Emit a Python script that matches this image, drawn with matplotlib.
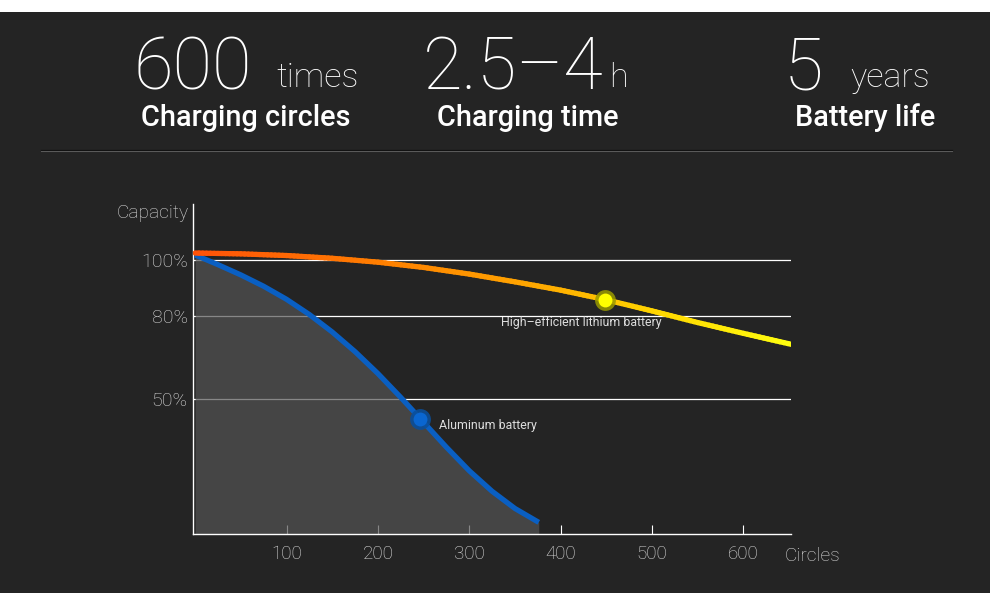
import numpy as np
import matplotlib
matplotlib.use("Agg")
import matplotlib.pyplot as plt
from matplotlib.collections import LineCollection
from matplotlib.colors import LinearSegmentedColormap
from matplotlib.patches import Rectangle
from matplotlib.lines import Line2D

# ---------------- data ----------------
lith_x = [0, 50, 100, 150, 200, 250, 300, 350, 400, 450, 500, 550, 600, 653]
lith_y = [102.6, 102.3, 101.7, 100.7, 99.3, 97.4, 95.0, 92.2, 89.2, 85.7, 81.7, 77.5, 73.6, 69.6]
alu_x = [0, 25, 50, 75, 100, 125, 150, 175, 200, 225, 250, 275, 300, 325, 350, 376]
alu_y = [101.9, 98.4, 94.7, 90.6, 85.9, 80.4, 74.1, 67.0, 59.1, 50.5, 41.5, 32.5, 24.0, 16.6, 10.4, 5.4]
lith_marker = (449, 85.7)
alu_marker = (246, 42.6)
grid_levels = [100, 80, 50]
ytick_labels = ["100%", "80%", "50%"]
xticks = [100, 200, 300, 400, 500, 600]
xtick_labels = ["100", "200", "300", "400", "500", "600"]

headline_nums = ["600", "2.5\u20134", "5"]
headline_units = ["times", "h", "years"]
headline_subs = ["Charging circles", "Charging time", "Battery life"]

BG = "#242424"
W, H = 990, 600
plt.rcParams['font.family'] = ['Roboto', 'DejaVu Sans']

fig = plt.figure(figsize=(9.9, 6.0), dpi=100)
fig.patch.set_facecolor(BG)
fig.patches.append(Rectangle((0, 1 - 12 / H), 1, 12 / H, transform=fig.transFigure,
                             facecolor="white", edgecolor="none", zorder=-5))
fig.patches.append(Rectangle((0, 0), 1, 7 / H, transform=fig.transFigure,
                             facecolor="white", edgecolor="none", zorder=-5))

def fx(px):
    return px / W

def fy(py):
    return 1 - py / H

# headline
num_pos = [133, 423, 784]
unit_pos = [276, 609, 850]
sub_pos = [141, 437, 795]
for n, u, s, xn, xu, xs in zip(headline_nums, headline_units, headline_subs, num_pos, unit_pos, sub_pos):
    fig.text(fx(xn), fy(90), n, color="white", fontsize=52, fontweight="light", va="baseline", ha="left")
    fig.text(fx(xu), fy(87), u, color="white", fontsize=24.5, fontweight="light", va="baseline", ha="left")
    fig.text(fx(xs), fy(126), s, color="white", fontsize=20.8, fontweight="medium", va="baseline", ha="left")

# separator
fig.add_artist(Line2D([fx(41), fx(952)], [fy(150), fy(150)], color="#0e0e0e", lw=0.9, transform=fig.transFigure))
fig.add_artist(Line2D([fx(41), fx(952)], [fy(151.2), fy(151.2)], color="#5a5a5a", lw=0.8, transform=fig.transFigure))

# axes
ax_left, ax_right, ax_top, ax_bot = 193.3, 791, 203.7, 534
ax = fig.add_axes([fx(ax_left), fy(ax_bot), (ax_right - ax_left) / W, (ax_bot - ax_top) / H])
ax.set_facecolor("none")
ax.set_xlim(-2, 652)
ax.set_ylim(1.2, 120.4)
for side in ["top", "right"]:
    ax.spines[side].set_visible(False)
for side in ["left", "bottom"]:
    ax.spines[side].set_color("white")
    ax.spines[side].set_linewidth(1.0)
ax.set_axisbelow(True)

ax.set_xticks(xticks)
ax.set_xticklabels(xtick_labels)
ax.tick_params(axis="x", direction="in", length=6.5, width=0.8, color="white", pad=8,
               labelcolor="#dddddd", labelsize=13.5)
ax.set_yticks(grid_levels)
ax.set_yticklabels(ytick_labels)
ax.tick_params(axis="y", length=0, pad=4, labelcolor="#dddddd", labelsize=14)
for lab in ax.get_xticklabels() + ax.get_yticklabels():
    lab.set_fontweight("light")

for g in grid_levels:
    ax.axhline(g, color="white", lw=0.9, zorder=0.8)

# fill under aluminum curve
ax.fill_between(alu_x, alu_y, 0, color="#545454", alpha=0.7, lw=0, zorder=1)

# aluminum curve
ax.plot(alu_x, alu_y, color="#0a5fc2", lw=3.8, solid_capstyle="butt", solid_joinstyle="round", zorder=3)

# lithium curve with gradient
cmap = LinearSegmentedColormap.from_list("lith", [
    (0.0, "#ff5208"), (0.3, "#ff7d00"), (0.55, "#ffa400"), (0.78, "#ffd700"), (1.0, "#ffff10")])
xs, ys = [], []
for i in range(len(lith_x) - 1):
    t = np.linspace(0, 1, 12, endpoint=False)
    xs.extend(lith_x[i] + (lith_x[i + 1] - lith_x[i]) * t)
    ys.extend(lith_y[i] + (lith_y[i + 1] - lith_y[i]) * t)
xs.append(lith_x[-1]); ys.append(lith_y[-1])
pts = np.column_stack([xs, ys]).reshape(-1, 1, 2)
segs = np.concatenate([pts[:-1], pts[1:]], axis=1)
lc = LineCollection(segs, cmap=cmap, linewidths=3.8, capstyle="round", zorder=4)
lc.set_array(np.array(xs[:-1]) / lith_x[-1])
lc.set_clim(0, 1)
ax.add_collection(lc)

# markers
ax.plot(*lith_marker, "o", ms=15, color="#9a9a00", alpha=0.85, mew=0, zorder=5, clip_on=False)
ax.plot(*lith_marker, "o", ms=10, color="#ffff00", mew=0, zorder=6, clip_on=False)
ax.plot(*alu_marker, "o", ms=15, color="#0b4f9a", alpha=0.9, mew=0, zorder=5, clip_on=False)
ax.plot(*alu_marker, "o", ms=10, color="#0a66d0", mew=0, zorder=6, clip_on=False)

# labels
fig.text(fx(189), fy(213), "Capacity", color="#dddddd", fontsize=13.8, fontweight="light", ha="right", va="center")
fig.text(fx(785), fy(556), "Circles", color="#dddddd", fontsize=13.8, fontweight="light", ha="left", va="center")
ax.text(334.5, 77.5, "High\u2013efficient lithium battery", color="#dddddd", fontsize=8.9, ha="left", va="center")
ax.text(267, 40.2, "Aluminum battery", color="#dddddd", fontsize=8.9, ha="left", va="center")

fig.savefig("out.png", dpi=100, facecolor=fig.get_facecolor())
